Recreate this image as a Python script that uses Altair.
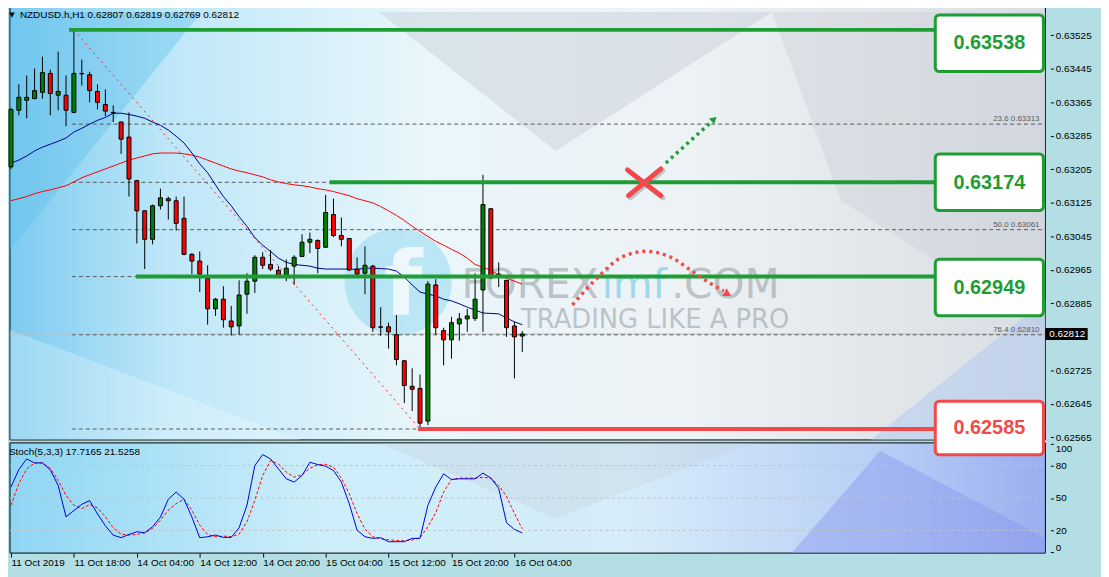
import altair as alt
import pandas as pd

# ---------------- data ----------------
bar_index = list(range(1, 67))
open_ = [0.63211, 0.63346, 0.63370, 0.63374, 0.63389, 0.63434, 0.63382, 0.63382, 0.63341, 0.63434,
         0.63431, 0.63391, 0.63360, 0.63341, 0.63318, 0.63282, 0.63178, 0.63106, 0.63038, 0.63118,
         0.63135, 0.63130, 0.63088, 0.63002, 0.62986, 0.62945, 0.62872, 0.62895, 0.62843, 0.62831,
         0.62907, 0.62938, 0.62995, 0.62978, 0.62964, 0.62952, 0.62974, 0.62997, 0.63031, 0.63035,
         0.63019, 0.63097, 0.63047, 0.63040, 0.62967, 0.62957, 0.62974, 0.62829, 0.62829, 0.62810,
         0.62748, 0.62687, 0.62682, 0.62604, 0.62929, 0.62820, 0.62798, 0.62836, 0.62848, 0.62849,
         0.62917, 0.63111, 0.62955, 0.62940, 0.62831, 0.62807]
high = [0.63351, 0.63408, 0.63429, 0.63446, 0.63474, 0.63443, 0.63486, 0.63429, 0.63538, 0.63467,
        0.63438, 0.63408, 0.63396, 0.63358, 0.63319, 0.63341, 0.63180, 0.63107, 0.63121, 0.63159,
        0.63140, 0.63140, 0.63140, 0.63005, 0.63009, 0.62976, 0.62898, 0.62926, 0.62879, 0.62940,
        0.62957, 0.63000, 0.63007, 0.63012, 0.62974, 0.62990, 0.63000, 0.63050, 0.63054, 0.63038,
        0.63144, 0.63135, 0.63090, 0.63041, 0.62995, 0.63021, 0.62977, 0.62876, 0.62839, 0.62857,
        0.62749, 0.62730, 0.62715, 0.62938, 0.62943, 0.62827, 0.62853, 0.62862, 0.62872, 0.62957,
        0.63192, 0.63112, 0.62983, 0.62941, 0.62841, 0.62819]
low = [0.63206, 0.63334, 0.63327, 0.63372, 0.63374, 0.63334, 0.63346, 0.63308, 0.63339, 0.63405,
       0.63365, 0.63348, 0.63332, 0.63318, 0.63242, 0.63140, 0.63028, 0.62967, 0.63026, 0.63109,
       0.63085, 0.63059, 0.63000, 0.62955, 0.62912, 0.62834, 0.62855, 0.62827, 0.62808, 0.62810,
       0.62860, 0.62910, 0.62967, 0.62962, 0.62948, 0.62938, 0.62929, 0.62996, 0.63005, 0.62957,
       0.63018, 0.63043, 0.63021, 0.62962, 0.62952, 0.62907, 0.62817, 0.62808, 0.62777, 0.62737,
       0.62647, 0.62628, 0.62585, 0.62594, 0.62810, 0.62737, 0.62753, 0.62796, 0.62817, 0.62843,
       0.62817, 0.62943, 0.62924, 0.62805, 0.62706, 0.62769]
close = [0.63348, 0.63377, 0.63377, 0.63393, 0.63436, 0.63386, 0.63391, 0.63346, 0.63434, 0.63433,
         0.63393, 0.63365, 0.63344, 0.63340, 0.63277, 0.63182, 0.63106, 0.63038, 0.63118, 0.63137,
         0.63130, 0.63076, 0.63002, 0.62986, 0.62955, 0.62872, 0.62895, 0.62846, 0.62829, 0.62905,
         0.62938, 0.62995, 0.62976, 0.62967, 0.62952, 0.62969, 0.62995, 0.63031, 0.63038, 0.63016,
         0.63102, 0.63047, 0.63038, 0.62965, 0.62955, 0.62976, 0.62827, 0.62828, 0.62817, 0.62751,
         0.62689, 0.62680, 0.62599, 0.62931, 0.62827, 0.62798, 0.62839, 0.62848, 0.62855, 0.62895,
         0.63121, 0.62946, 0.62948, 0.62827, 0.62805, 0.62812]
ma_fast = [0.63220, 0.63227, 0.63237, 0.63249, 0.63258, 0.63265, 0.63272, 0.63280, 0.63294, 0.63303,
           0.63313, 0.63322, 0.63329, 0.63339, 0.63339, 0.63336, 0.63332, 0.63327, 0.63318, 0.63310,
           0.63299, 0.63284, 0.63268, 0.63244, 0.63218, 0.63197, 0.63168, 0.63140, 0.63118, 0.63092,
           0.63069, 0.63042, 0.63024, 0.63009, 0.62993, 0.62983, 0.62978, 0.62976, 0.62974, 0.62969,
           0.62967, 0.62967, 0.62967, 0.62967, 0.62966, 0.62969, 0.62969, 0.62968, 0.62967, 0.62962,
           0.62948, 0.62929, 0.62912, 0.62907, 0.62903, 0.62895, 0.62891, 0.62884, 0.62876, 0.62869,
           0.62862, 0.62861, 0.62860, 0.62850, 0.62841, 0.62834]
ma_slow = [0.63130, 0.63135, 0.63140, 0.63147, 0.63152, 0.63156, 0.63161, 0.63166, 0.63175, 0.63185,
           0.63192, 0.63199, 0.63206, 0.63213, 0.63220, 0.63227, 0.63232, 0.63237, 0.63242, 0.63244,
           0.63244, 0.63244, 0.63242, 0.63239, 0.63234, 0.63227, 0.63220, 0.63213, 0.63206, 0.63201,
           0.63197, 0.63192, 0.63187, 0.63180, 0.63175, 0.63171, 0.63168, 0.63166, 0.63163, 0.63159,
           0.63156, 0.63152, 0.63147, 0.63142, 0.63135, 0.63130, 0.63125, 0.63116, 0.63106, 0.63095,
           0.63083, 0.63069, 0.63057, 0.63045, 0.63033, 0.63024, 0.63014, 0.63005, 0.62993, 0.62978,
           0.62971, 0.62964, 0.62952, 0.62945, 0.62938, 0.62931]
stoch_k = [60.1, 76.3, 86.1, 82.4, 82.4, 76.0, 61.6, 32.6, 38.4, 44.2,
           47.6, 35.3, 24.3, 15.7, 13.3, 16.3, 18.8, 17.9, 23.4, 32.3,
           48.8, 55.5, 48.8, 32.3, 13.3, 14.2, 15.7, 13.6, 13.6, 22.5,
           43.3, 80.0, 90.1, 86.1, 76.9, 67.7, 64.7, 70.8, 83.0, 80.9,
           79.4, 75.4, 64.7, 44.8, 20.3, 14.2, 12.7, 13.3, 9.6, 9.6,
           9.6, 12.7, 12.7, 43.3, 60.1, 72.3, 67.1, 67.7, 67.7, 67.7,
           73.0, 68.4, 59.0, 27.0, 21.0, 17.72]
stoch_d = [43.3, 63.2, 76.9, 82.4, 82.4, 77.5, 66.2, 52.4, 43.3, 40.2,
           43.9, 40.8, 32.6, 22.5, 16.6, 15.7, 16.3, 17.9, 21.8, 29.5,
           38.7, 44.8, 48.8, 38.7, 24.9, 16.3, 14.2, 14.8, 14.2, 16.6,
           28.0, 47.9, 70.8, 84.6, 81.5, 73.9, 69.3, 71.4, 77.5, 80.6,
           81.2, 78.5, 68.4, 54.0, 35.6, 21.2, 14.2, 12.4, 11.4, 10.8,
           10.5, 11.1, 13.3, 23.4, 36.5, 55.5, 67.1, 68.4, 68.4, 68.4,
           69.0, 68.4, 61.6, 51.5, 35.7, 21.53]

time_tick_bars = [1, 9, 17, 25, 33, 41, 49, 57, 65]
time_tick_labels = ["11 Oct 2019", "11 Oct 18:00", "14 Oct 04:00", "14 Oct 12:00", "14 Oct 20:00",
                    "15 Oct 04:00", "15 Oct 12:00", "15 Oct 20:00", "16 Oct 04:00"]
price_ticks = [0.63525, 0.63445, 0.63365, 0.63285, 0.63205, 0.63125, 0.63045, 0.62965, 0.62885,
               0.62725, 0.62645, 0.62565]
stoch_ticks = [0, 20, 50, 80, 100]
fib_ratios = ["0.0", "23.6", "38.2", "50.0", "61.8", "76.4", "100.0"]
fib_prices = [0.63538, 0.63313, 0.63174, 0.63061, 0.62949, 0.62810, 0.62585]
fib_label_visible = ["23.6", "50.0", "76.4"]
key_prices = [0.63538, 0.63174, 0.62949, 0.62585]
key_labels = ["0.63538", "0.63174", "0.62949", "0.62585"]
last_price = 0.62812
header_text = "NZDUSD.h,H1 0.62807 0.62819 0.62769 0.62812"
stoch_text = "Stoch(5,3,3) 17.7165 21.5258"

# ---------------- helpers for annotation placement ----------------
GREEN = "#1f9d34"
RED = "#f24a4a"


def rb(px):  # screen x (reference) -> bar coordinate
    return (px + 2) / 8.0


def rp(py):  # screen y (reference) -> price coordinate
    return 0.63538 - (py - 28) / 42183.0


def rs(py):  # screen y (reference) -> stochastic coordinate
    return (546 - (py - 8)) / 1.09


XS = alt.Scale(domain=[0.875, 132.5], range=[-3, 1050], nice=False, zero=False)
PS = alt.Scale(domain=[0.62559, 0.63600], range=[433.0, -6.2], nice=False, zero=False)
SS = alt.Scale(domain=[0, 100], range=[546, 437], nice=False, zero=False)

labels_js = "[" + ",".join("'%s'" % s for s in time_tick_labels) + "]"
bars_js = "[" + ",".join(str(b) for b in time_tick_bars) + "]"
XAX = alt.Axis(values=time_tick_bars, labelExpr=labels_js + "[indexof(" + bars_js + ", datum.value)]",
               orient="bottom", tickSize=4, labelPadding=1, labelAlign="left", labelFlush=False,
               labelOverlap=False, labelBound=False, domain=False, grid=False, title=None)
PAX = alt.Axis(values=price_ticks, format=".5f", orient="right", tickSize=3, labelPadding=2,
               domain=False, grid=False, title=None, labelOverlap=False)
SAX = alt.Axis(values=stoch_ticks, format="d", orient="right", tickSize=3, labelPadding=2,
               domain=False, grid=False, title=None, labelFlush=True, labelOverlap=False)


def xf(f):
    return alt.X(f, type="quantitative", scale=XS, axis=XAX, title=None)


def xd(v):
    return alt.XDatum(v, type="quantitative", scale=XS, axis=XAX, title=None)


def yf(f):
    return alt.Y(f, type="quantitative", scale=PS, axis=PAX, title=None)


def yd(v):
    return alt.YDatum(v, type="quantitative", scale=PS, axis=PAX, title=None)


def sf(f):
    return alt.Y(f, type="quantitative", scale=SS, axis=SAX, title=None)


def sd(v):
    return alt.YDatum(v, type="quantitative", scale=SS, axis=SAX, title=None)


def of(f):
    return alt.Y(f, type="quantitative", scale=PS, axis=None, title=None)


def poly_df(pts, ymap):
    xs = sorted(set(p[0] for p in pts))
    rows = []
    n = len(pts)
    for x in xs:
        ys = []
        for i in range(n):
            (x1, y1), (x2, y2) = pts[i], pts[(i + 1) % n]
            if x1 == x2:
                if x == x1:
                    ys += [y1, y2]
            elif min(x1, x2) <= x <= max(x1, x2):
                ys.append(y1 + (y2 - y1) * (x - x1) / (x2 - x1))
        rows.append({"x": rb(x), "y": ymap(min(ys)), "y2": ymap(max(ys))})
    return pd.DataFrame(rows)


def poly(pts, color, opacity, ymap, yenc):
    return alt.Chart(poly_df(pts, ymap)).mark_area(color=color, opacity=opacity, interpolate="linear").encode(
        x=xf("x"), y=yenc("y"), y2="y2")


# ---------------- price panel ----------------
cdf = pd.DataFrame({"bar": bar_index, "open": open_, "high": high, "low": low, "close": close,
                    "ma_fast": ma_fast, "ma_slow": ma_slow})
cdf["dir"] = ["up" if c >= o else "down" for o, c in zip(open_, close)]

main_grad = {"gradient": "linear", "x1": 0, "y1": 0, "x2": 1, "y2": 0,
             "stops": [{"offset": 0, "color": "#7ccbf0"}, {"offset": 0.15, "color": "#bde7f8"},
                       {"offset": 0.4, "color": "#e9f6fb"}, {"offset": 0.65, "color": "#edf2f5"},
                       {"offset": 0.85, "color": "#e2e6ea"}, {"offset": 1, "color": "#d9dee5"}]}
main_bg = alt.Chart(pd.DataFrame({"a": [0]})).mark_rect(fill=main_grad, stroke="black", strokeWidth=1).encode(
    x=xd(rb(5)), x2=alt.X2Datum(rb(1058)), y=yd(rp(2)), y2=alt.Y2Datum(rp(441)))

main_polys = [
    poly([(380, 10), (780, 10), (560, 150)], "#b9c2ca", 0.35, rp, yf),
    poly([(780, 10), (1058, 10), (1058, 330), (850, 200)], "#c5ccd4", 0.35, rp, yf),
    poly([(5, 10), (200, 10), (5, 250)], "#5fc0ec", 0.4, rp, yf),
    poly([(880, 441), (1058, 300), (1058, 441)], "#a9c6f0", 0.45, rp, yf),
    poly([(5, 330), (300, 441), (5, 441)], "#ffffff", 0.25, rp, yf),
]

wm_circle = alt.Chart(pd.DataFrame({"a": [0]})).mark_point(
    shape="circle", filled=True, size=11664, color="#96d8f0", opacity=0.55).encode(
    x=alt.value(393), y=alt.value(274))
wm_f = alt.Chart(pd.DataFrame({"a": [0]})).mark_text(
    text="f", font="DejaVu Sans", fontSize=90, fontWeight="bold", color="white", opacity=0.75,
    align="center", baseline="middle").encode(x=alt.value(398), y=alt.value(280))
wm_forex = alt.Chart(pd.DataFrame({"a": [0]})).mark_text(
    text="FOREX", font="DejaVu Sans", fontSize=41, color="#8e9499", opacity=0.5,
    align="right", baseline="alphabetic").encode(x=alt.value(595), y=alt.value(290))
wm_imf = alt.Chart(pd.DataFrame({"a": [0]})).mark_text(
    text="imf", font="DejaVu Sans", fontSize=41, color="#7fcdea", opacity=0.7,
    align="left", baseline="alphabetic").encode(x=alt.value(598), y=alt.value(290))
wm_com = alt.Chart(pd.DataFrame({"a": [0]})).mark_text(
    text=".COM", font="DejaVu Sans", fontSize=41, color="#8e9499", opacity=0.5,
    align="left", baseline="alphabetic").encode(x=alt.value(668), y=alt.value(290))
wm_trade = alt.Chart(pd.DataFrame({"a": [0]})).mark_text(
    text="TRADING LIKE A PRO", font="DejaVu Sans", fontSize=26, color="#8e9499", opacity=0.5,
    align="right", baseline="alphabetic").encode(x=alt.value(787), y=alt.value(320))

fib_df = pd.DataFrame({"price": fib_prices, "ratio": fib_ratios})
fib_lab = pd.DataFrame({"ratio": fib_label_visible,
                        "price": [fib_prices[fib_ratios.index(r)] for r in fib_label_visible]})
fib_lab["label"] = [r + " " + ("%.5f" % p) for r, p in zip(fib_lab["ratio"], fib_lab["price"])]
fib_lines = alt.Chart(fib_df).mark_rule(color="#5a5a5a", strokeDash=[4, 3], strokeWidth=1).encode(
    x=xd(rb(68)), x2=alt.X2Datum(132.5), y=yf("price"))
fib_text = alt.Chart(fib_lab).mark_text(font="Liberation Sans", fontSize=8, color="#5a5a5a",
                                        align="right", baseline="bottom", dy=-1).encode(
    x=xd(rb(1052)), y=yf("price"), text="label:N")

bid_line = alt.Chart(pd.DataFrame({"p": [last_price]})).mark_rule(color="#c0c0c0", strokeWidth=1).encode(
    x=xd(rb(5)), x2=alt.X2Datum(132.5), y=yf("p"))

diag = alt.Chart(pd.DataFrame({"a": [0]})).mark_rule(color="#ff2020", strokeDash=[2, 4], strokeWidth=1).encode(
    x=xd(9), x2=alt.X2Datum(53), y=yd(fib_prices[0]), y2=alt.Y2Datum(fib_prices[-1]))

ma_slow_line = alt.Chart(cdf).mark_line(color="#ff0000", strokeWidth=1).encode(x=xf("bar"), y=yf("ma_slow"))
ma_fast_line = alt.Chart(cdf).mark_line(color="#00008b", strokeWidth=1).encode(x=xf("bar"), y=yf("ma_fast"))

wicks = alt.Chart(cdf).mark_rule(color="black", strokeWidth=1).encode(x=xf("bar"), y=yf("low"), y2="high")
bodies = alt.Chart(cdf).mark_bar(width=4, stroke="black", strokeWidth=1).encode(
    x=xf("bar"), y=yf("open"), y2="close",
    fill=alt.Fill("dir:N", scale=alt.Scale(domain=["up", "down"], range=["#008000", "#ff0000"]), legend=None))

key_df = pd.DataFrame({"price": key_prices, "start": [rb(65), rb(330), rb(133), rb(420)],
                       "col": [GREEN, GREEN, GREEN, RED]})
key_lines = alt.Chart(key_df).mark_rule(strokeWidth=4).encode(
    x=xf("start"), x2=alt.X2Datum(rb(945)), y=yf("price"), color=alt.Color("col:N", scale=None))

# arrows and cross
g_arrow = alt.Chart(pd.DataFrame({"x": [rb(672), rb(719)], "y": [rp(162), rp(120)]})).mark_line(
    color=GREEN, strokeWidth=3.5, strokeDash=[3, 4]).encode(x=xf("x"), y=yf("y"))
g_head = alt.Chart(pd.DataFrame({"x": [rb(721)], "y": [rp(118)]})).mark_point(
    shape="triangle-up", filled=True, size=60, color=GREEN, angle=48, opacity=1).encode(x=xf("x"), y=yf("y"))
x_shadow = alt.Chart(pd.DataFrame({"x": [rb(635), rb(636)], "x2": [rb(669), rb(669)],
                                   "y": [rp(171), rp(197)], "y2": [rp(197), rp(170)]})).mark_rule(
    color="#707070", strokeWidth=5, opacity=0.35, strokeCap="round").encode(
    x=xf("x"), x2="x2", y=yf("y"), y2="y2")
x_cross = alt.Chart(pd.DataFrame({"x": [rb(633), rb(634)], "x2": [rb(667), rb(667)],
                                  "y": [rp(169), rp(195)], "y2": [rp(195), rp(168)]})).mark_rule(
    color=RED, strokeWidth=5, strokeCap="round").encode(x=xf("x"), x2="x2", y=yf("y"), y2="y2")
r_curve = alt.Chart(pd.DataFrame({
    "x": [rb(577), rb(603), rb(627), rb(652), rb(677), rb(700), rb(720), rb(731)],
    "y": [rp(305), rp(277), rp(257), rp(251), rp(257), rp(272), rp(285), rp(291)]})).mark_line(
    color=RED, strokeWidth=3.5, strokeDash=[3, 4], interpolate="monotone").encode(x=xf("x"), y=yf("y"))
r_head = alt.Chart(pd.DataFrame({"x": [rb(735)], "y": [rp(294)]})).mark_point(
    shape="triangle-up", filled=True, size=80, color=RED, angle=120, opacity=1).encode(x=xf("x"), y=yf("y"))

header_tri = alt.Chart(pd.DataFrame({"a": [0]})).mark_text(
    text="▼", font="DejaVu Sans", fontSize=7, color="black", align="center", baseline="middle").encode(
    x=alt.value(4), y=alt.value(5))
header = alt.Chart(pd.DataFrame({"a": [0]})).mark_text(
    text=header_text, font="Liberation Sans", fontSize=10, color="black", align="left", baseline="middle").encode(
    x=alt.value(12), y=alt.value(5))

cur_box = alt.Chart(pd.DataFrame({"p": [last_price]})).mark_rect(color="black", height=12).encode(
    x=xd(rb(1058)), x2=alt.X2Datum(rb(1101)), y=yf("p"))
cur_txt = alt.Chart(pd.DataFrame({"p": [last_price], "t": ["%.5f" % last_price]})).mark_text(
    font="Liberation Sans", fontSize=10, color="white", align="left", baseline="middle").encode(
    x=xd(rb(1062)), y=yf("p"), text="t:N")

price_group = alt.layer(main_bg, *main_polys, wm_circle, wm_f, wm_forex, wm_imf, wm_com, wm_trade,
                        bid_line, fib_lines, diag, ma_slow_line, ma_fast_line, wicks, bodies,
                        key_lines, fib_text, g_arrow, g_head, x_shadow, x_cross, r_curve, r_head,
                        header_tri, header, cur_box, cur_txt)

# ---------------- stochastic panel ----------------
sdf = pd.DataFrame({"bar": bar_index, "k": stoch_k, "d": stoch_d})
st_grad = {"gradient": "linear", "x1": 0, "y1": 0, "x2": 1, "y2": 0,
           "stops": [{"offset": 0, "color": "#8fd6f4"}, {"offset": 0.3, "color": "#cdeefa"},
                     {"offset": 0.6, "color": "#d6ecfa"}, {"offset": 0.85, "color": "#b7cdf5"},
                     {"offset": 1, "color": "#9aaef0"}]}
st_bg = alt.Chart(pd.DataFrame({"a": [0]})).mark_rect(fill=st_grad, stroke="black", strokeWidth=1).encode(
    x=xd(rb(5)), x2=alt.X2Datum(rb(1058)), y=sd(rs(444)), y2=alt.Y2Datum(rs(555)))
st_polys = [
    poly([(800, 555), (890, 452), (1058, 540), (1058, 555)], "#8a96ee", 0.45, rs, sf),
    poly([(380, 444), (760, 444), (560, 520)], "#c0c8d0", 0.25, rs, sf),
]
st_grid = alt.Chart(pd.DataFrame({"lvl": [20, 50, 80]})).mark_rule(
    color="#c4c4c4", strokeDash=[3, 3], strokeWidth=1).encode(
    x=xd(rb(5)), x2=alt.X2Datum(rb(1058)), y=sf("lvl"))
st_d = alt.Chart(sdf).mark_line(color="#ff0000", strokeWidth=1, strokeDash=[3, 2]).encode(x=xf("bar"), y=sf("d"))
st_k = alt.Chart(sdf).mark_line(color="#0000e0", strokeWidth=1).encode(x=xf("bar"), y=sf("k"))
st_label = alt.Chart(pd.DataFrame({"a": [0]})).mark_text(
    text=stoch_text, font="Liberation Sans", fontSize=10, color="black", align="left", baseline="middle").encode(
    x=alt.value(1), y=alt.value(445))

stoch_group = alt.layer(st_bg, *st_polys, st_grid, st_d, st_k, st_label)

# ---------------- overlay (value boxes) ----------------
box_df = pd.DataFrame({
    "top": [rp(13), rp(153), rp(259), rp(402)],
    "bottom": [rp(70), rp(210), rp(316), rp(456)],
    "mid": [rp(41), rp(182), rp(288), rp(429)],
    "label": key_labels,
    "col": [GREEN, GREEN, GREEN, RED]})
boxes = alt.Chart(box_df).mark_rect(fill="white", strokeWidth=3, cornerRadius=4).encode(
    x=xd(rb(946)), x2=alt.X2Datum(rb(1056)), y=of("top"), y2="bottom", stroke=alt.Stroke("col:N", scale=None))
box_text = alt.Chart(box_df).mark_text(font="Liberation Sans", fontSize=20, fontWeight="bold",
                                       align="center", baseline="middle").encode(
    x=xd(rb(1001)), y=of("mid"), text="label:N", color=alt.Color("col:N", scale=None))
overlay_group = alt.layer(boxes, box_text)

chart = alt.layer(price_group, stoch_group, overlay_group).resolve_scale(y="independent").properties(
    width=1050, height=547, autosize=alt.AutoSizeParams(type="none"),
    padding={"left": 0, "top": 0, "right": 51, "bottom": 22}, background="#b3dfe4"
).configure_view(stroke=None).configure_axis(
    labelFont="Liberation Sans", labelFontSize=10, labelColor="black", tickColor="black"
)

chart.save("out.html", embed_options={"renderer": "svg", "actions": False})
